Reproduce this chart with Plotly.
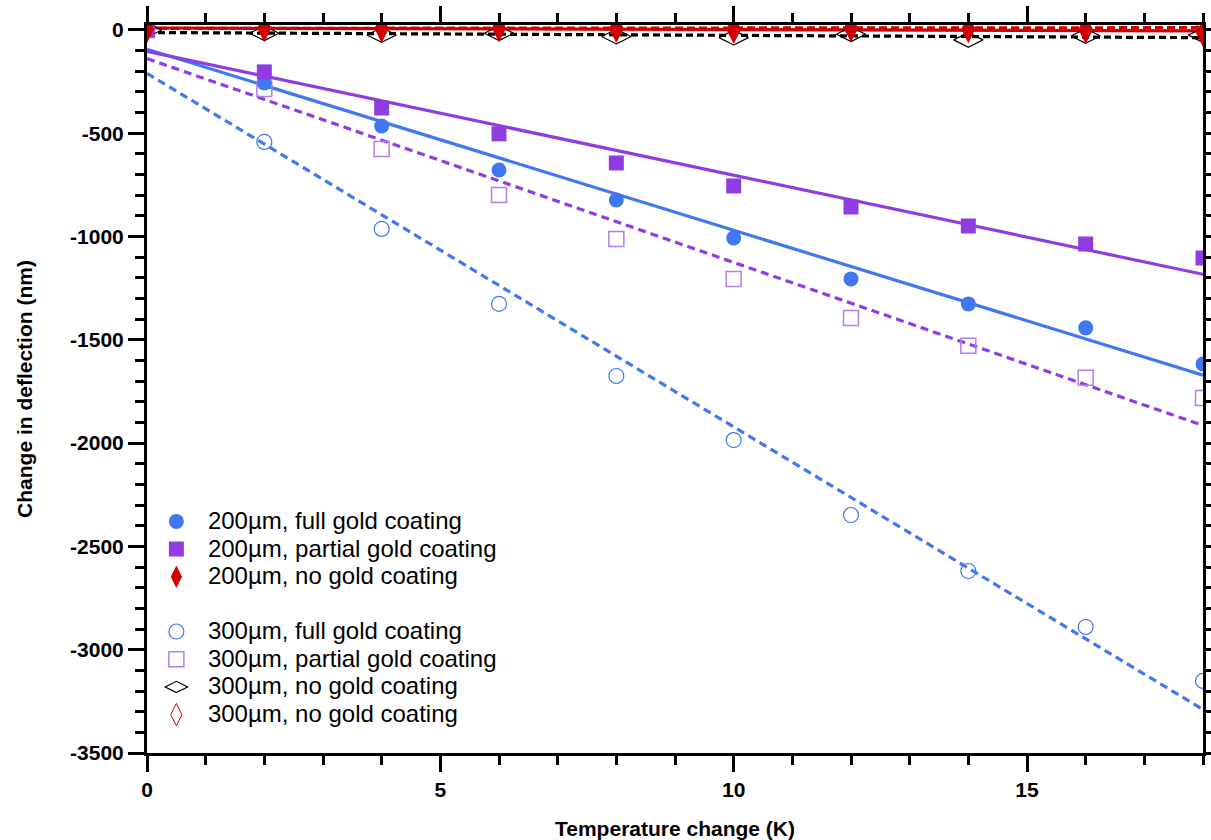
import numpy as np
import plotly.graph_objects as go

# ---- data ----
temp_change = [0, 2, 4, 6, 8, 10, 12, 14, 16, 18]
full_200 = [0, -256, -465, -678, -823, -1007, -1205, -1326, -1442, -1617]
partial_200 = [0, -203, -378, -503, -644, -755, -857, -949, -1036, -1104]
none_200 = [5, 8, 5, 8, 5, 0, 8, 3, 0, -15]
full_300 = [0, -542, -963, -1326, -1675, -1985, -2348, -2619, -2890, -3151]
partial_300 = [0, -286, -576, -799, -1012, -1205, -1394, -1529, -1684, -1781]
none_300_black = [0, -16, -24, -16, -32, -37, -21, -48, -29, -25]
none_300_red = [5, 10, 10, 10, 10, 8, 10, 8, 8, 15]

x_tickvals = [0, 5, 10, 15]
x_ticktext = ["0", "5", "10", "15"]
y_tickvals = [0, -500, -1000, -1500, -2000, -2500, -3000, -3500]
y_ticktext = ["0", "-500", "-1000", "-1500", "-2000", "-2500", "-3000", "-3500"]

labels = [
    "200µm, full gold coating",
    "200µm, partial gold coating",
    "200µm, no gold coating",
    "300µm, full gold coating",
    "300µm, partial gold coating",
    "300µm, no gold coating",
    "300µm, no gold coating",
]

BLUE = "#3f78f2"
PURPLE = "#8f3de0"
LPURPLE = "#b27ded"
RED = "#d00000"
BLACK = "#000000"
FONT = "Arial, Liberation Sans, sans-serif"

fig = go.Figure()

x_arr = np.array(temp_change, dtype=float)
x_line = np.array([0.0, 18.0])

def fit_line(y, color, dash):
    k, b = np.polyfit(x_arr, np.array(y, dtype=float), 1)
    fig.add_trace(go.Scatter(
        x=x_line, y=k * x_line + b, mode="lines", showlegend=False,
        hoverinfo="skip", line=dict(color=color, width=3.2, dash=dash)))

# fitted lines (drawn beneath markers)
fit_line(full_300, BLUE, "8px,5px")
fit_line(partial_300, PURPLE, "8px,5px")
fit_line(full_200, BLUE, "solid")
fit_line(partial_200, PURPLE, "solid")
fit_line(none_300_black, BLACK, "7px,4px")
fit_line(none_200, RED, "solid")
fit_line(none_300_red, RED, "8px,4px")

def wrap(t):
    return '<span style="font-size:24px">' + t + '</span>'

# markers: 300 µm (drawn first)
fig.add_trace(go.Scatter(x=temp_change, y=full_300, mode="markers", name=wrap(labels[3]),
    legendgroup="b", legendrank=4,
    marker=dict(symbol="circle-open", size=15, color=BLUE, line=dict(width=1.2, color=BLUE))))
fig.add_trace(go.Scatter(x=temp_change, y=partial_300, mode="markers", name=wrap(labels[4]),
    legendgroup="b", legendrank=5,
    marker=dict(symbol="square-open", size=15, color=LPURPLE, line=dict(width=1.5, color=LPURPLE))))
fig.add_trace(go.Scatter(x=temp_change, y=none_300_black, mode="markers", name=wrap(labels[5]),
    legendgroup="b", legendrank=6,
    marker=dict(symbol="diamond-wide-open", size=21, color=BLACK, line=dict(width=1.2, color=BLACK))))
fig.add_trace(go.Scatter(x=temp_change, y=none_300_red, mode="markers", name=wrap(labels[6]),
    legendgroup="b", legendrank=7,
    marker=dict(symbol="diamond-tall-open", size=18, color=RED, line=dict(width=1, color=RED))))

# markers: 200 µm
fig.add_trace(go.Scatter(x=temp_change, y=full_200, mode="markers", name=wrap(labels[0]),
    legendgroup="a", legendrank=1,
    marker=dict(symbol="circle", size=15, color=BLUE)))
fig.add_trace(go.Scatter(x=temp_change, y=partial_200, mode="markers", name=wrap(labels[1]),
    legendgroup="a", legendrank=2,
    marker=dict(symbol="square", size=15, color=PURPLE)))
fig.add_trace(go.Scatter(x=temp_change, y=none_200, mode="markers", name=wrap(labels[2]),
    legendgroup="a", legendrank=3,
    marker=dict(symbol="diamond-tall", size=20, color=RED)))

axis_common = dict(
    showgrid=False, zeroline=False, showline=True, linewidth=3, linecolor="black",
    mirror="allticks", ticks="outside", ticklen=16, tickwidth=3, tickcolor="black",
    automargin=False,
    tickfont=dict(family=FONT, size=21, color="black", weight="bold"),
)

fig.update_xaxes(
    range=[0, 18], tickmode="array", tickvals=x_tickvals, ticktext=x_ticktext,
    minor=dict(dtick=1, tick0=0, ticklen=9, tickwidth=3, tickcolor="black", ticks="outside"),
    title=dict(text="Temperature change (K)", standoff=22,
               font=dict(family=FONT, size=21, color="black", weight="bold")),
    **axis_common)
fig.update_yaxes(
    range=[-3500, 24], tickmode="array", tickvals=y_tickvals, ticktext=y_ticktext,
    minor=dict(dtick=100, tick0=0, ticklen=9, tickwidth=3, tickcolor="black", ticks="outside"),
    title=dict(text="Change in deflection (nm)", standoff=32,
               font=dict(family=FONT, size=21, color="black", weight="bold")),
    **axis_common)

fig.update_layout(
    width=1211, height=840,
    margin=dict(l=147, r=8, t=25, b=87),
    paper_bgcolor="white", plot_bgcolor="white",
    font=dict(family=FONT, color="black"),
    showlegend=True,
    legend=dict(
        x=-0.002, y=0.344, xanchor="left", yanchor="top",
        bgcolor="rgba(0,0,0,0)", borderwidth=0,
        font=dict(family=FONT, size=19, color="black"),
        traceorder="grouped", tracegroupgap=27, itemsizing="trace",
        itemwidth=53,
    ),
)

fig.write_html("out.html")
